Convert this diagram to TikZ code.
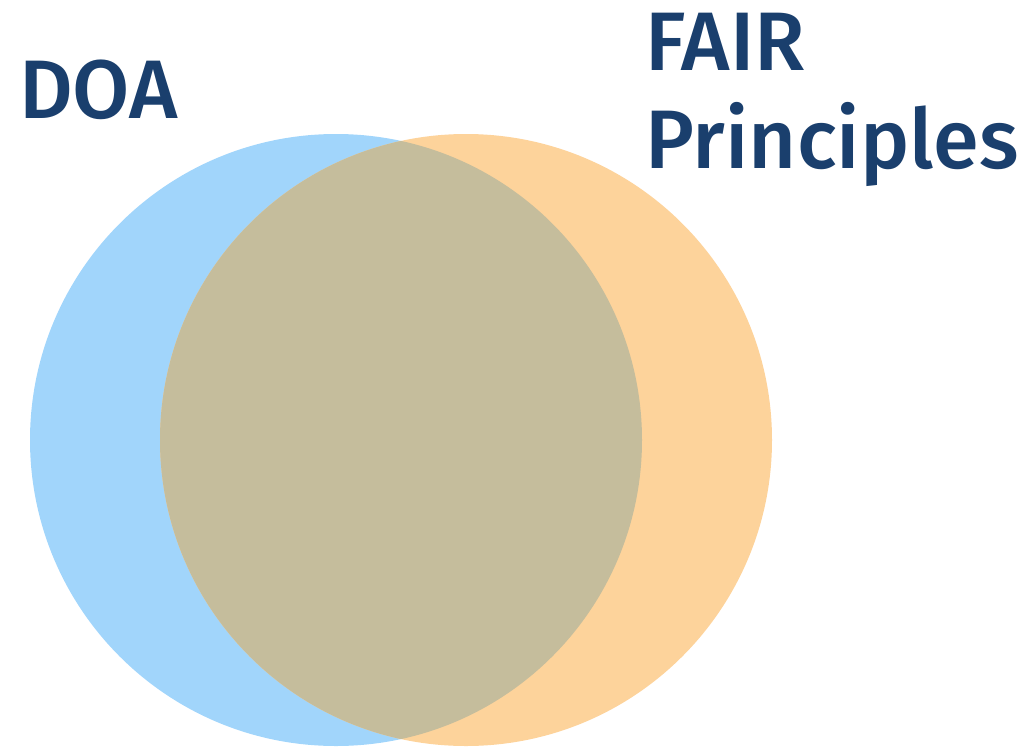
\documentclass[tikz,border=0pt]{standalone}
\usepackage{fontspec}
\setmainfont{Fira Sans}[BoldFont={Fira Sans Medium}]
\usepackage{tikz}
\definecolor{doablue}{HTML}{A1D5FB}
\definecolor{fairorange}{HTML}{FDD39B}
\definecolor{overlap}{HTML}{C5BD9C}
\definecolor{titleblue}{HTML}{1A3F6D}
\tikzset{
  setcircle/.style={circle, minimum size=612pt, inner sep=0pt},
  settitle/.style={text=titleblue, font=\fontsize{83}{98}\selectfont\bfseries, inner sep=0pt, anchor=base west}
}

\begin{document}
\begin{tikzpicture}[x=1pt, y=-1pt]
        \useasboundingbox (0,0) rectangle (1029,748);
        % Sets
        \node[setcircle, fill=doablue] (doa) at (336,440) {};
        \node[setcircle, fill=fairorange] (fair) at (466,440) {};
        \begin{scope}
          \clip (466,440) circle (306);
          \fill[overlap] (336,440) circle (306);
        \end{scope}

        % Labels
        \node[settitle] (doalabel) at (19,118) {DOA};
        \node[settitle] (fairlabel) at (645,70) {FAIR};
        \node[settitle] (principleslabel) at (645,168) {Principles};
    \end{tikzpicture}
\end{document}
